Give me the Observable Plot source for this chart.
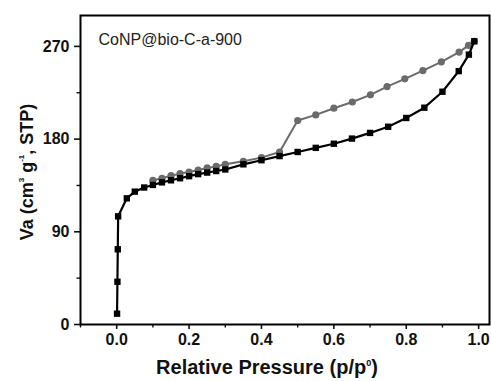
<!DOCTYPE html>
<html>
<head>
<meta charset="utf-8">
<script src="https://cdn.jsdelivr.net/npm/d3@7"></script>
<script src="https://cdn.jsdelivr.net/npm/@observablehq/plot@0.6"></script>
<style>
  html, body { margin: 0; padding: 0; background: #fff; }
  #chart svg { display: block; }
</style>
</head>
<body>
<div id="chart"></div>
<script>
// Adsorption branch (black squares)
const adsP = [0.001, 0.002, 0.003, 0.004, 0.028, 0.05, 0.076, 0.1, 0.125, 0.15, 0.175, 0.2, 0.225, 0.25, 0.275, 0.3, 0.35, 0.4, 0.45, 0.5, 0.55, 0.6, 0.65, 0.7, 0.75, 0.8, 0.85, 0.9, 0.945, 0.973, 0.988];
const adsV = [10.5, 41.5, 73, 105, 122.5, 129, 133, 135.5, 138, 140, 142, 144, 146, 147.5, 149, 150.5, 155.5, 159.5, 163.5, 167.5, 171.5, 175.5, 180.5, 186, 192, 200.5, 210.5, 226, 246, 262, 275];
// Desorption branch (grey circles)
const desP = [0.988, 0.972, 0.946, 0.897, 0.846, 0.796, 0.747, 0.701, 0.651, 0.6, 0.55, 0.5, 0.45, 0.4, 0.35, 0.3, 0.275, 0.25, 0.225, 0.2, 0.175, 0.15, 0.125, 0.1];
const desV = [275, 271, 264.5, 255, 246.5, 238.5, 231, 223, 216, 210, 203.5, 198, 167.5, 162, 158.5, 155.5, 153.5, 152, 150, 148, 146.5, 144.5, 142, 140];

const xMajor = [0, 0.2, 0.4, 0.6, 0.8, 1.0];
const xMinor = [-0.1, 0.1, 0.3, 0.5, 0.7, 0.9];
const yMajor = [0, 90, 180, 270];
const yMinor = [45, 135, 225];
const sampleName = "CoNP@bio-C-a-900";

const ads = adsP.map((p, i) => ({p, v: adsV[i]}));
const des = desP.map((p, i) => ({p, v: desV[i]}));

const greyCol = "#6b6b6b";
const ink = "#111";

const chart = Plot.plot({
  width: 491,
  height: 381,
  marginLeft: 80,
  marginTop: 15,
  marginRight: 2,
  marginBottom: 57,
  style: {fontFamily: "'Liberation Sans', Arial, sans-serif", background: "#fff", color: ink},
  x: {domain: [-0.1, 1.03]},
  y: {domain: [0, 300]},
  marks: [
    Plot.axisX(xMajor, {tickSize: 5, tickPadding: 4, tickFormat: d3.format(".1f"), fontSize: 16, fontWeight: "bold", strokeWidth: 1.6, label: null}),
    Plot.axisX(xMinor, {tickSize: 3.5, tickFormat: () => "", strokeWidth: 1.4, label: null}),
    Plot.axisY(yMajor, {tickSize: 6, tickPadding: 5, fontSize: 16, fontWeight: "bold", strokeWidth: 1.6, label: null}),
    Plot.axisY(yMinor, {tickSize: 3.5, tickFormat: () => "", strokeWidth: 1.4, label: null}),
    Plot.line(des, {x: "p", y: "v", stroke: greyCol, strokeWidth: 2}),
    Plot.dot(des, {x: "p", y: "v", r: 3.6, fill: greyCol, stroke: "none"}),
    Plot.line(ads, {x: "p", y: "v", stroke: "#000", strokeWidth: 2.2}),
    Plot.dot(ads, {x: "p", y: "v", symbol: "square", r: 3.6, fill: "#000", stroke: "none"}),
    Plot.frame({stroke: "#000", strokeWidth: 2}),
    Plot.text([sampleName], {frameAnchor: "top-left", dx: 18, dy: 18, fontSize: 16, fill: "#222", textAnchor: "start"})
  ]
});

const svg = d3.select(chart);
// X axis title
const xt = svg.append("text")
  .attr("x", 267).attr("y", 374)
  .attr("text-anchor", "middle")
  .attr("font-family", "'Liberation Sans', Arial, sans-serif")
  .attr("font-weight", "bold").attr("font-size", 20).attr("fill", ink);
xt.append("tspan").text("Relative Pressure (p/p");
xt.append("tspan").attr("font-size", 9).attr("dy", -8).text("0");
xt.append("tspan").attr("dy", 8).text(")");

// Y axis title
const yt = svg.append("text")
  .attr("transform", "translate(33,172) rotate(-90)")
  .attr("text-anchor", "middle")
  .attr("font-family", "'Liberation Sans', Arial, sans-serif")
  .attr("font-weight", "bold").attr("font-size", 18).attr("fill", ink);
yt.append("tspan").text("Va (cm");
yt.append("tspan").attr("font-size", 8).attr("dy", -9).text("3");
yt.append("tspan").attr("dy", 9).text(" g");
yt.append("tspan").attr("font-size", 8).attr("dy", -9).text("-1");
yt.append("tspan").attr("dy", 9).text(", STP)");

document.getElementById("chart").appendChild(chart);
</script>
</body>
</html>
